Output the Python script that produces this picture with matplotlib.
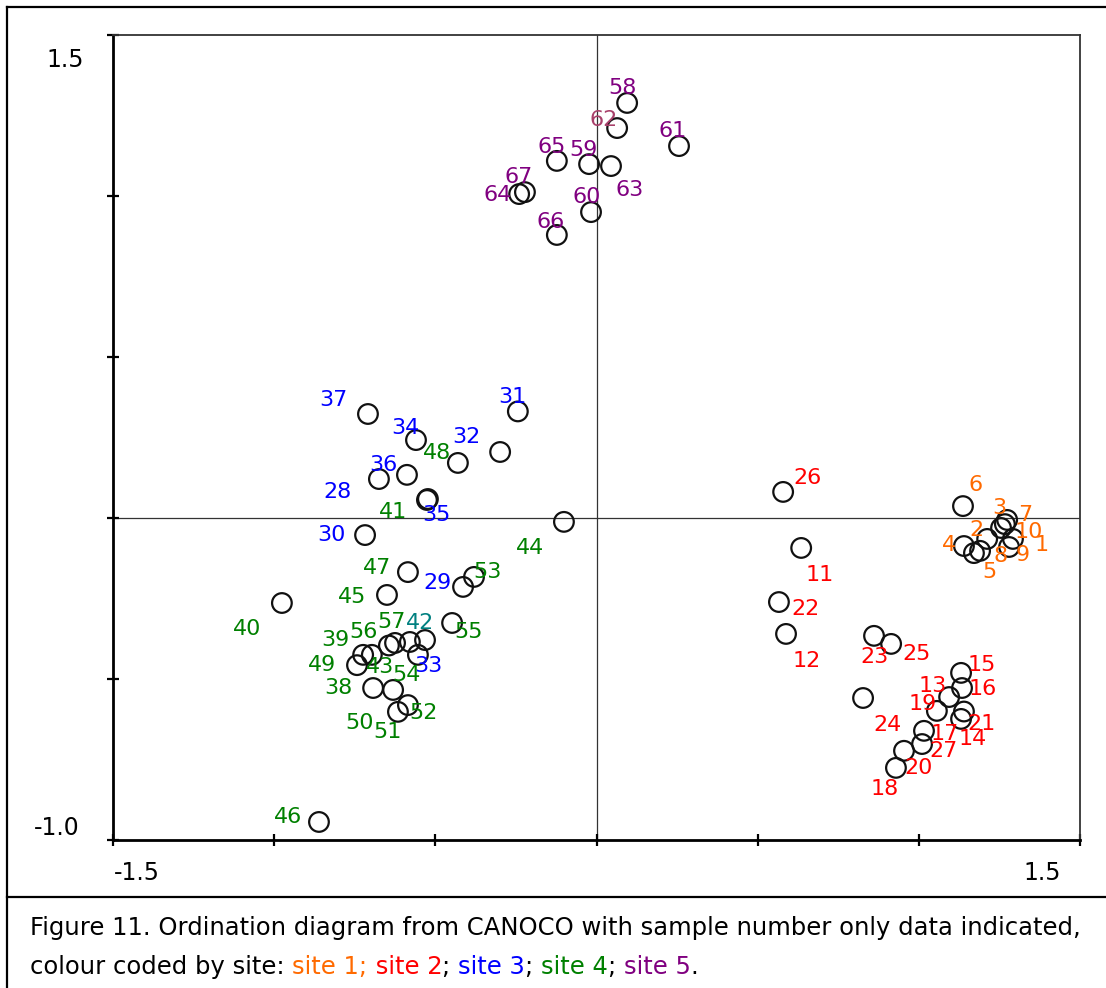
import matplotlib.pyplot as plt
from matplotlib.lines import Line2D

# sample scores (axis 1, axis 2)
site1_ids = [1, 2, 3, 4, 5, 6, 7, 8, 9, 10]
site1_x = [1.292, 1.212, 1.274, 1.140, 1.171, 1.137, 1.267, 1.190, 1.280, 1.255]
site1_y = [-0.065, -0.065, -0.006, -0.087, -0.109, 0.037, -0.019, -0.102, -0.090, -0.031]

site2_ids = [11, 12, 13, 14, 15, 16, 17, 18, 19, 20, 21, 22, 23, 24, 25, 26, 27]
site2_x = [0.635, 0.588, 1.094, 1.131, 1.131, 1.134, 1.016, 0.929, 1.056, 0.954,
           1.140, 0.566, 0.861, 0.827, 0.914, 0.579, 1.010]
site2_y = [-0.093, -0.360, -0.556, -0.624, -0.481, -0.528, -0.661, -0.776, -0.599, -0.723,
           -0.601, -0.261, -0.366, -0.559, -0.391, 0.081, -0.702]

site3_ids = [28, 29, 30, 31, 32, 33, 34, 35, 36, 37]
site3_x = [-0.675, -0.414, -0.718, -0.244, -0.299, -0.554, -0.560, -0.526, -0.588, -0.709]
site3_y = [0.121, -0.214, -0.053, 0.331, 0.205, -0.425, 0.242, 0.056, 0.134, 0.323]

site4_ids = [38, 39, 40, 41, 42, 43, 44, 45, 46, 47, 48, 49, 50, 51, 52, 53, 54, 55, 56, 57]
site4_x = [-0.693, -0.697, -0.976, -0.523, -0.532, -0.724, -0.101, -0.650, -0.861, -0.585,
           -0.430, -0.743, -0.631, -0.616, -0.585, -0.380, -0.644, -0.448, -0.625, -0.579]
site4_y = [-0.528, -0.425, -0.264, 0.059, -0.379, -0.425, -0.012, -0.239, -0.944, -0.168,
           0.171, -0.457, -0.534, -0.602, -0.581, -0.183, -0.396, -0.326, -0.388, -0.385]

site5_ids = [58, 59, 60, 61, 62, 63, 64, 65, 66, 67]
site5_x = [0.095, -0.023, -0.017, 0.256, 0.064, 0.045, -0.240, -0.123, -0.123, -0.222]
site5_y = [1.289, 1.099, 0.950, 1.155, 1.211, 1.093, 1.006, 1.109, 0.879, 1.012]

site_colours = ['#FF6A00', '#FF0000', '#0000FF', '#008000', '#800080']

# a couple of labels came out in odd colours in the original
label_colour_override = {42: '#008080', 62: '#A8406A'}

# label placement (pixels from the point, y up) - CanoDraw put them round the circles
label_offset = {
    1: (29, -6), 2: (-11, 9), 3: (-8, 12), 4: (-15, 1), 5: (15, -19), 6: (13, 21),
    7: (20, 9), 8: (20, -5), 9: (14, -8), 10: (28, -4),
    11: (19, -27), 12: (21, -27), 13: (-16, 11), 14: (12, -20), 15: (21, 8), 16: (21, -1),
    17: (21, -3), 18: (-11, -21), 19: (-14, 7), 20: (15, -17), 21: (18, -12), 22: (27, -7),
    23: (0, -21), 24: (24, -27), 25: (25, -10), 26: (24, 14), 27: (21, -7),
    28: (-41, -13), 29: (-26, 4), 30: (-34, 0), 31: (-5, 14), 32: (-34, 15), 33: (10, -11),
    34: (-11, 12), 35: (9, -15), 36: (-24, 10), 37: (-35, 14),
    38: (-35, 0), 39: (-36, 15), 40: (-35, -26), 41: (-35, -13), 42: (-5, 17), 43: (17, -12),
    44: (-34, -26), 45: (-35, -2), 46: (-31, 5), 47: (-31, 4), 48: (-21, 10), 49: (-35, 0),
    50: (-34, -33), 51: (-10, -20), 52: (16, -8), 53: (13, 5), 54: (18, -29), 55: (16, -9),
    56: (-32, 11), 57: (-18, 20),
    58: (-5, 15), 59: (-6, 14), 60: (-4, 15), 61: (-6, 15), 62: (-14, 8), 63: (19, -24),
    64: (-22, -1), 65: (-5, 14), 66: (-6, 13), 67: (-6, 15),
}

sites = [
    (site1_ids, site1_x, site1_y),
    (site2_ids, site2_x, site2_y),
    (site3_ids, site3_x, site3_y),
    (site4_ids, site4_x, site4_y),
    (site5_ids, site5_x, site5_y),
]

plt.rcParams['font.family'] = ['DejaVu Sans']
FS = 16

W, H = 1106, 988
fig = plt.figure(figsize=(W / 100, H / 100), dpi=100)
ax = fig.add_axes([113 / W, 1 - 840 / H, (1080 - 113) / W, (840 - 35) / H])

ax.axhline(0, color='#333333', lw=0.9, zorder=1)
ax.axvline(0, color='#333333', lw=0.9, zorder=1)

for (ids, xs, ys), col in zip(sites, site_colours):
    ax.scatter(xs, ys, s=200, facecolors='none', edgecolors='#111111', linewidths=1.6, zorder=3)
    for n, x, y in zip(ids, xs, ys):
        dx, dy = label_offset[n]
        ax.annotate(str(n), (x, y), xytext=(dx, dy), textcoords='offset pixels',
                    ha='center', va='center', fontsize=FS,
                    color=label_colour_override.get(n, col), zorder=4)

ax.set_xlim(-1.5, 1.5)
ax.set_ylim(-1.0, 1.5)
ax.set_xticks([-1.5, -1.0, -0.5, 0, 0.5, 1.0, 1.5])
ax.set_yticks([-1.0, -0.5, 0, 0.5, 1.0, 1.5])
ax.set_xticklabels([])
ax.set_yticklabels([])
ax.tick_params(direction='inout', length=8, width=1.6, colors='black')
for side in ['left', 'bottom']:
    ax.spines[side].set_linewidth(2.0)
for side in ['top', 'right']:
    ax.spines[side].set_linewidth(1.3)
    ax.spines[side].set_color('#333333')

# end labels only, placed like the original
fig.text(65 / W, 1 - 60 / H, '1.5', ha='center', va='center', fontsize=FS + 1)
fig.text(57 / W, 1 - 828 / H, '-1.0', ha='center', va='center', fontsize=FS + 1)
fig.text(137 / W, 1 - 873 / H, '-1.5', ha='center', va='center', fontsize=FS + 1)
fig.text(1042 / W, 1 - 873 / H, '1.5', ha='center', va='center', fontsize=FS + 1)

# frame of the figure and caption box
fig.add_artist(Line2D([7 / W, 7 / W], [0, 1 - 7 / H], color='black', lw=1.6))
fig.add_artist(Line2D([7 / W, 1], [1 - 7 / H, 1 - 7 / H], color='black', lw=1.6))
fig.add_artist(Line2D([7 / W, 1], [1 - 897 / H, 1 - 897 / H], color='black', lw=1.6))

renderer = fig.canvas.get_renderer()
CAP_FS = 17.5


def colour_line(x, y, pieces):
    for txt, col in pieces:
        t = fig.text(x, y, txt, color=col, fontsize=CAP_FS, ha='left', va='center')
        bb = t.get_window_extent(renderer)
        x += bb.width / fig.bbox.width


colour_line(30 / W, 1 - 928 / H,
            [('Figure 11. Ordination diagram from CANOCO with sample number only data indicated,', 'black')])
colour_line(30 / W, 1 - 967 / H,
            [('colour coded by site: ', 'black'), ('site 1;', site_colours[0]), (' site 2', site_colours[1]),
             ('; ', 'black'), ('site 3', site_colours[2]), ('; ', 'black'),
             ('site 4', site_colours[3]), ('; ', 'black'), ('site 5', site_colours[4]), ('.', 'black')])

fig.savefig('out.png', dpi=100)
